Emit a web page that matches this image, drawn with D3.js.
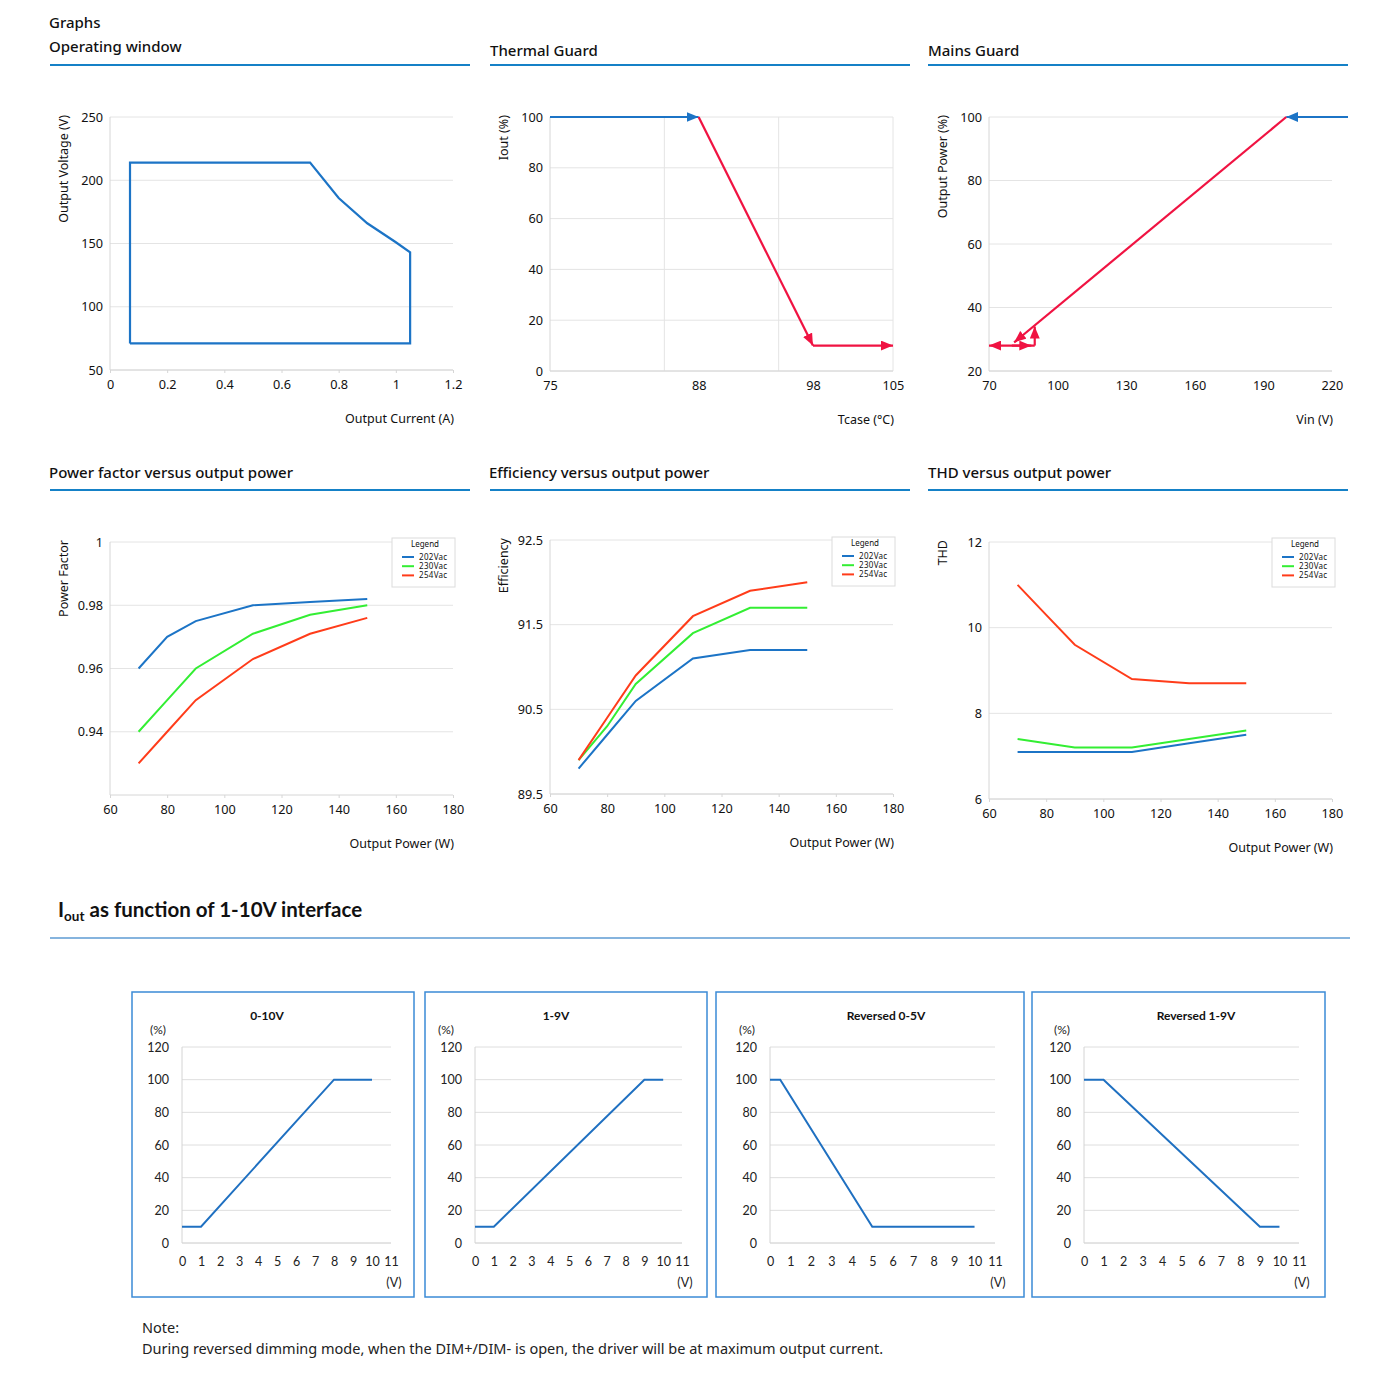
<!DOCTYPE html>
<html><head><meta charset="utf-8">
<script src="https://cdn.jsdelivr.net/npm/d3@7"></script>
<style>body{margin:0;background:#fff}svg{display:block}</style>
</head><body><svg id="c" width="1400" height="1398"></svg>
<script>
// ---------------- DATA ----------------
// Operating window
const owCurrent=[0.07,0.07,0.7,0.8,0.9,1.0,1.05,1.05,0.07];
const owVoltage=[71,214,214,186,166,151,143,71,71];
const owXTicks=[0,0.2,0.4,0.6,0.8,1,1.2];
const owYTicks=[50,100,150,200,250];
// Thermal guard
const tgXTicks=[75,88,98,105];
const tgXGrid=[85,95,105];
const tgYTicks=[0,20,40,60,80,100];
const tgSegments=[
  {kind:"normal", t:[75,88], i:[100,100]},
  {kind:"derate", t:[88,98], i:[100,10]},
  {kind:"derate", t:[98,105], i:[10,10]}
];
// Mains guard
const mgXTicks=[70,100,130,160,190,220];
const mgYTicks=[20,40,60,80,100];
const mgSegments=[
  {kind:"normal", v:[227,200], p:[100,100]},
  {kind:"derate", v:[200,81], p:[100,29]},
  {kind:"derate", v:[90,70], p:[28,28]},
  {kind:"derate", v:[80,88.5], p:[28,28]},
  {kind:"derate", v:[90,90], p:[28,34]}
];
// Power factor / efficiency / THD
const legendTitle="Legend";
const seriesNames=["202Vac","230Vac","254Vac"];
const powerW=[70,80,90,110,130,150];
const pf202=[0.96,0.97,0.975,0.98,0.981,0.982];
const pf230=[0.94,0.95,0.96,0.971,0.977,0.98];
const pf254=[0.93,0.94,0.95,0.963,0.971,0.976];
const eff202=[89.8,90.2,90.6,91.1,91.2,91.2];
const eff230=[89.9,90.3,90.8,91.4,91.7,91.7];
const eff254=[89.9,90.4,90.9,91.6,91.9,92.0];
const thd202=[7.1,7.1,7.1,7.1,7.3,7.5];
const thd230=[7.4,7.3,7.2,7.2,7.4,7.6];
const thd254=[11,10.3,9.6,8.8,8.7,8.7];
const powerTicks=[60,80,100,120,140,160,180];
const pfTicks=[0.94,0.96,0.98,1];
const effTicks=[89.5,90.5,91.5,92.5];
const thdTicks=[6,8,10,12];
// 1-10V dimming
const dimTitles=["0-10V","1-9V","Reversed 0-5V","Reversed 1-9V"];
const dimVolt=[[0,1,8,10],[0,1,9,10],[0,0.5,5,10],[0,1,9,10]];
const dimPct=[[10,10,100,100],[10,10,100,100],[100,100,10,10],[100,100,10,10]];
const dimXTicks=[0,1,2,3,4,5,6,7,8,9,10,11];
const dimYTicks=[0,20,40,60,80,100,120];

// ---------------- STYLE / LAYOUT ----------------
const FONT='"Noto Sans", "Open Sans", sans-serif';
const FONT2='Lato, "Liberation Sans", sans-serif';
const C={blue:"#1c74c6",green:"#33ee33",red:"#ff3c1a",pink:"#f01342",grid:"#e4e4e4",axis:"#d6d6d6",text:"#111",rule:"#1581c7"};
const seriesColors=[C.blue,C.green,C.red];
const kindColor={normal:C.blue,derate:C.pink};

const svg=d3.select("#c");
const defs=svg.append("defs");
Object.entries(kindColor).forEach(([k,col])=>{
  defs.append("marker").attr("id","arr-"+k).attr("viewBox","0 0 12 10")
    .attr("refX",12).attr("refY",5).attr("markerUnits","userSpaceOnUse")
    .attr("markerWidth",12).attr("markerHeight",10).attr("orient","auto")
    .append("path").attr("d","M0,0L12,5L0,10Z").attr("fill",col);
});

function text(x,y,s,opt={}){
  const t=svg.append("text").attr("x",x).attr("y",y).text(s)
    .attr("font-family",opt.family||FONT).attr("font-size",opt.size||12.5)
    .attr("fill",opt.fill||C.text).attr("text-anchor",opt.anchor||"start");
  if(opt.weight) t.attr("font-weight",opt.weight);
  return t;
}

// Headers
text(49,28,"Graphs",{size:15,weight:500});
text(49,52,"Operating window",{size:15,weight:500});
text(490,56,"Thermal Guard",{size:15,weight:500});
text(928,56,"Mains Guard",{size:15,weight:500});
text(49,478,"Power factor versus output power",{size:15,weight:500});
text(489,478,"Efficiency versus output power",{size:15,weight:500});
text(928,478,"THD versus output power",{size:15,weight:500});
[[50,470,65],[490,910,65],[928,1348,65],[50,470,490],[490,910,490],[928,1348,490]].forEach(([a,b,y])=>{
  svg.append("line").attr("x1",a).attr("x2",b).attr("y1",y).attr("y2",y).attr("stroke",C.rule).attr("stroke-width",2);
});

function panel(o){
  const x=d3.scaleLinear().domain(o.xd).range([o.l,o.r]);
  const y=d3.scaleLinear().domain(o.yd).range([o.b,o.t]);
  const g=svg.append("g");
  g.selectAll(null).data(o.yGrid).join("line")
    .attr("x1",o.l).attr("x2",o.r).attr("y1",d=>y(d)).attr("y2",d=>y(d)).attr("stroke",C.grid);
  if(o.xGrid) g.selectAll(null).data(o.xGrid).join("line")
    .attr("x1",d=>x(d)).attr("x2",d=>x(d)).attr("y1",o.t).attr("y2",o.b).attr("stroke",C.grid);
  g.append("line").attr("x1",o.l).attr("x2",o.l).attr("y1",o.t).attr("y2",o.b).attr("stroke",C.axis);
  g.append("line").attr("x1",o.l).attr("x2",o.r).attr("y1",o.b).attr("y2",o.b).attr("stroke",C.axis);
  const ya=g.append("g").attr("transform",`translate(${o.l},0)`)
    .call(d3.axisLeft(y).tickValues(o.yTicks).tickSize(0).tickPadding(7).tickFormat(o.yFmt||(d=>d)));
  const xa=g.append("g").attr("transform",`translate(0,${o.b})`)
    .call(d3.axisBottom(x).tickValues(o.xTicks).tickSize(3).tickPadding(7).tickFormat(o.xFmt||(d=>d)));
  [ya,xa].forEach(a=>{a.select(".domain").remove();
    a.selectAll("text").attr("font-family",FONT).attr("font-size",12.7).attr("fill",C.text);
    a.selectAll("line").attr("stroke",C.axis);});
  text(o.r+1,o.b+53,o.xTitle,{anchor:"end"});
  text(0,0,o.yTitle,{anchor:"end"}).attr("dominant-baseline","central")
    .attr("transform",`translate(${o.l-47},${o.t-2}) rotate(-90)`);
  return {x,y,g};
}

// Operating window
{
  const p=panel({l:110,r:453,t:117,b:370,xd:[0,1.2],yd:[50,250],xTicks:owXTicks,yTicks:owYTicks,yGrid:owYTicks,
    xTitle:"Output Current (A)",yTitle:"Output Voltage (V)",xFmt:d=>d});
  const pts=owCurrent.map((c,i)=>[c,owVoltage[i]]);
  p.g.append("path").attr("d",d3.line().x(d=>p.x(d[0])).y(d=>p.y(d[1]))(pts))
    .attr("fill","none").attr("stroke",C.blue).attr("stroke-width",2.2);
}
// Thermal guard
{
  const p=panel({l:550,r:893,t:117,b:371,xd:[75,105],yd:[0,100],xTicks:tgXTicks,yTicks:tgYTicks,yGrid:tgYTicks,xGrid:tgXGrid,
    xTitle:"Tcase (°C)",yTitle:"Iout (%)"});
  p.g.selectAll(".tick line").remove();
  tgSegments.forEach(s=>{
    const pts=s.t.map((t,i)=>[t,s.i[i]]);
    p.g.append("path").attr("d",d3.line().x(d=>p.x(d[0])).y(d=>p.y(d[1]))(pts))
      .attr("fill","none").attr("stroke",kindColor[s.kind]).attr("stroke-width",2.2)
      .attr("marker-end",`url(#arr-${s.kind})`);
  });
}
// Mains guard
{
  const p=panel({l:989,r:1332,t:117,b:371,xd:[70,220],yd:[20,100],xTicks:mgXTicks,yTicks:mgYTicks,yGrid:mgYTicks,
    xTitle:"Vin (V)",yTitle:"Output Power (%)"});
  p.g.selectAll(".tick line").remove();
  mgSegments.forEach(s=>{
    const pts=s.v.map((v,i)=>[v,s.p[i]]);
    p.g.append("path").attr("d",d3.line().x(d=>p.x(d[0])).y(d=>p.y(d[1]))(pts))
      .attr("fill","none").attr("stroke",kindColor[s.kind]).attr("stroke-width",2.2)
      .attr("marker-end",`url(#arr-${s.kind})`);
  });
}

function legend(x0,y0){
  const g=svg.append("g").attr("transform",`translate(${x0},${y0})`);
  g.append("rect").attr("width",63).attr("height",49).attr("fill","#fff").attr("stroke","#dcdcdc");
  g.append("text").attr("x",33).attr("y",9).attr("text-anchor","middle").text(legendTitle)
    .attr("font-family",FONT).attr("font-size",8).attr("fill",C.text);
  seriesNames.forEach((n,i)=>{
    const yy=19+i*9.2;
    g.append("line").attr("x1",10).attr("x2",22).attr("y1",yy).attr("y2",yy).attr("stroke",seriesColors[i]).attr("stroke-width",2);
    g.append("text").attr("x",27).attr("y",yy+3).text(n).attr("font-family",FONT).attr("font-size",8)
      .attr("letter-spacing",0.3).attr("fill",C.text);
  });
}
function multi(o,series,lx,ly){
  const p=panel(o);
  series.forEach((vals,i)=>{
    p.g.append("path").attr("d",d3.line().x((d,j)=>p.x(powerW[j])).y(d=>p.y(d))(vals))
      .attr("fill","none").attr("stroke",seriesColors[i]).attr("stroke-width",2);
  });
  legend(lx,ly);
}
multi({l:110,r:453,t:542,b:795,xd:[60,180],yd:[0.92,1],xTicks:powerTicks,yTicks:pfTicks,yGrid:pfTicks,
  xTitle:"Output Power (W)",yTitle:"Power Factor"},[pf202,pf230,pf254],392,538);
multi({l:550,r:893,t:540,b:794,xd:[60,180],yd:[89.5,92.5],xTicks:powerTicks,yTicks:effTicks,yGrid:effTicks,
  xTitle:"Output Power (W)",yTitle:"Efficiency"},[eff202,eff230,eff254],832,537);
multi({l:989,r:1332,t:542,b:799,xd:[60,180],yd:[6,12],xTicks:powerTicks,yTicks:thdTicks,yGrid:thdTicks,
  xTitle:"Output Power (W)",yTitle:"THD"},[thd202,thd230,thd254],1272,538);

// Section heading
{
  const t=svg.append("text").attr("x",58).attr("y",917).attr("font-family",FONT2).attr("font-weight",700)
    .attr("font-size",20.5).attr("fill","#111");
  t.append("tspan").text("I");
  t.append("tspan").text("out").attr("font-size",13.5).attr("dy",4);
  t.append("tspan").text(" as function of 1-10V interface").attr("dy",-4);
  svg.append("line").attr("x1",50).attr("x2",1350).attr("y1",938).attr("y2",938).attr("stroke","#5e9bd3").attr("stroke-width",1.5);
}

// Dimming panels
const dimLayout=[
  {bl:132,br:414,pl:182,pr:391,tx:267,px:158},
  {bl:425,br:707,pl:475,pr:682,tx:556,px:446},
  {bl:716,br:1024,pl:770,pr:995,tx:886,px:747},
  {bl:1032,br:1325,pl:1084,pr:1299,tx:1196,px:1062}
];
dimLayout.forEach((L,k)=>{
  const top=1047,bot=1243;
  svg.append("rect").attr("x",L.bl).attr("y",992).attr("width",L.br-L.bl).attr("height",305)
    .attr("fill","none").attr("stroke","#3b8bd6").attr("stroke-width",1.5);
  const x=d3.scaleLinear().domain([0,11]).range([L.pl,L.pr]);
  const y=d3.scaleLinear().domain([0,120]).range([bot,top]);
  const g=svg.append("g");
  g.selectAll(null).data(dimYTicks).join("line").attr("x1",L.pl).attr("x2",L.pr)
    .attr("y1",d=>y(d)).attr("y2",d=>y(d)).attr("stroke",d=>d===0?"#c8c8c8":"#dedede");
  g.append("line").attr("x1",L.pl).attr("x2",L.pl).attr("y1",top).attr("y2",bot).attr("stroke","#d4d4d4");
  const ya=g.append("g").attr("transform",`translate(${L.pl},0)`).call(d3.axisLeft(y).tickValues(dimYTicks).tickSize(0).tickPadding(13));
  const xa=g.append("g").attr("transform",`translate(0,${bot})`).call(d3.axisBottom(x).tickValues(dimXTicks).tickSize(0).tickPadding(14));
  [ya,xa].forEach(a=>{a.select(".domain").remove();a.selectAll("text").attr("font-family",FONT2).attr("font-size",12.5).attr("fill","#222");});
  g.append("path").attr("d",d3.line().x((d,j)=>x(dimVolt[k][j])).y(d=>y(d))(dimPct[k]))
    .attr("fill","none").attr("stroke","#1f70c1").attr("stroke-width",2);
  text(L.tx,1020,dimTitles[k],{family:FONT2,size:12,weight:700,anchor:"middle"});
  text(L.px,1034,"(%)",{family:FONT2,size:12,anchor:"middle",fill:"#222"});
  text(L.pr+3,1287,"(V)",{family:FONT2,size:12.5,anchor:"middle",fill:"#222"});
});

// Note
text(142,1333,"Note:",{size:14.5,fill:"#222"});
text(142,1354,"During reversed dimming mode, when the DIM+/DIM- is open, the driver will be at maximum output current.",{size:14.5,fill:"#222"});
</script>
</body></html>
